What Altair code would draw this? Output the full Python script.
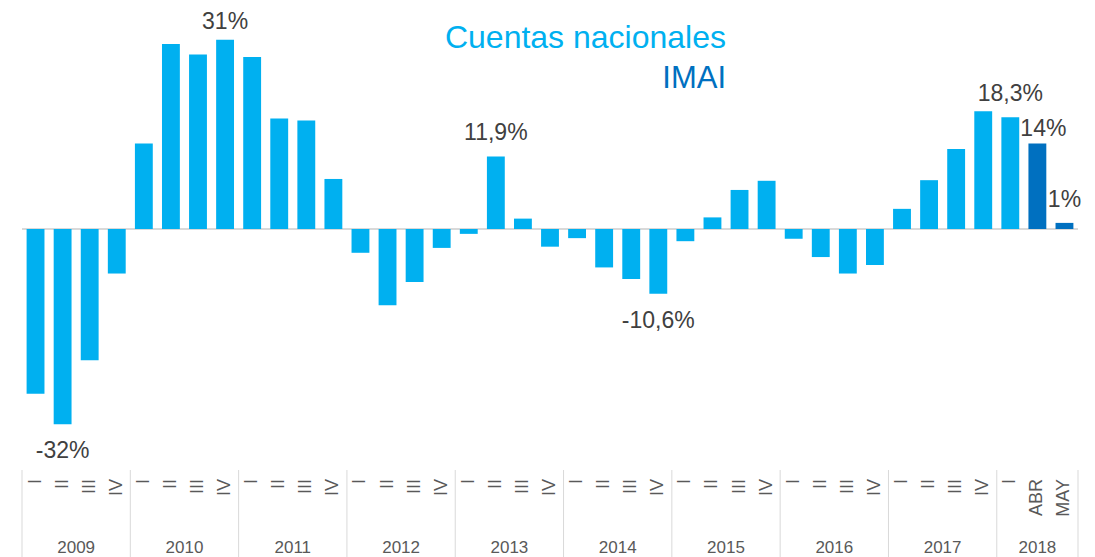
import altair as alt
import pandas as pd

FONT = "Liberation Sans"

year_names = ["2009", "2010", "2011", "2012", "2013", "2014", "2015", "2016", "2017", "2018"]
periods_per_year = [["I", "II", "III", "IV"]] * 9 + [["I", "ABR", "MAY"]]

values = [-27.0, -32.0, -21.5, -7.3,
          14.0, 30.3, 28.6, 31.0,
          28.2, 18.1, 17.8, 8.2,
          -3.9, -12.5, -8.7, -3.1,
          -0.8, 11.9, 1.7, -2.9,
          -1.5, -6.3, -8.2, -10.6,
          -2.0, 1.9, 6.4, 7.9,
          -1.6, -4.6, -7.3, -5.9,
          3.3, 8.0, 13.1, 19.3,
          18.3, 14.0, 1.0]

series_names = ["Cuentas nacionales", "IMAI"]
series_colors = ["#00B0F0", "#0070C0"]
imai_periods = ["ABR", "MAY"]

value_labels = {1: "-32%", 7: "31%", 17: "11,9%", 23: "-10,6%", 36: "18,3%", 37: "14%", 38: "1%"}

periods, years = [], []
for y, ps in zip(year_names, periods_per_year):
    for p in ps:
        periods.append(p)
        years.append(y)

n = len(values)
df = pd.DataFrame({
    "idx": list(range(n)),
    "period": periods,
    "year": years,
    "value": values,
})
df["source"] = [series_names[1] if p in imai_periods else series_names[0] for p in periods]
df["label"] = [value_labels.get(i, "") for i in range(n)]
df["lo"] = df["idx"] - 0.33
df["hi"] = df["idx"] + 0.33

ydf = df.groupby("year", sort=False)["idx"].agg(["min", "max"]).reset_index()
ydf["center"] = (ydf["min"] + ydf["max"]) / 2
sep = pd.DataFrame({"b": list(ydf["min"] - 0.5) + [ydf["max"].iloc[-1] + 0.5]})

W, H = 1056, 457
xs = alt.Scale(domain=[-0.5, n - 0.5], nice=False, zero=False)
ys = alt.Scale(domain=[-39.5, 35.4], nice=False, zero=False)

base = alt.Chart(df)

zero = alt.Chart(pd.DataFrame({"z": [0]})).mark_rule(color="#D9D9D9", strokeWidth=2).encode(
    y=alt.Y("z:Q", scale=ys, axis=None)
)

bars = base.mark_bar().encode(
    x=alt.X("lo:Q", scale=xs, axis=None),
    x2="hi",
    y=alt.Y("value:Q", scale=ys, axis=None),
    y2=alt.datum(0),
    color=alt.Color("source:N", scale=alt.Scale(domain=series_names, range=series_colors), legend=None),
)

def label_layer(flt, dy, dx=0):
    return base.transform_filter(flt).mark_text(
        font=FONT, fontSize=23, color="#404040", baseline="middle", dy=dy, dx=dx
    ).encode(x=alt.X("idx:Q", scale=xs), y=alt.Y("value:Q", scale=ys), text="label:N")

lab_pos = label_layer("datum.label != '' && datum.value > 0 && datum.label != '14%' && datum.label != '31%'", -23)
lab_31 = label_layer("datum.label == '31%'", -18)
lab_14 = label_layer("datum.label == '14%'", -15, 6)
lab_neg = label_layer("datum.label != '' && datum.value < 0", 27)

qlabels = base.mark_text(
    font=FONT, fontSize=18, color="#595959", angle=270, align="right", baseline="middle"
).encode(x=alt.X("idx:Q", scale=xs), y=alt.value(H + 9), text="period:N")

seps = alt.Chart(sep).mark_rule(color="#D9D9D9", strokeWidth=1).encode(
    x=alt.X("b:Q", scale=xs), y=alt.value(H), y2=alt.value(H + 90)
)

ylabels = alt.Chart(ydf).mark_text(
    font=FONT, fontSize=17, color="#595959", baseline="middle"
).encode(x=alt.X("center:Q", scale=xs), y=alt.value(H + 78), text="year:N")

leg_df = pd.DataFrame({"name": series_names, "color": series_colors})
legend1 = alt.Chart(leg_df).transform_filter(f"datum.name == '{series_names[0]}'").mark_text(
    font=FONT, fontSize=32, align="right", baseline="alphabetic", color=series_colors[0]
).encode(x=alt.value(704), y=alt.value(35), text="name:N")
legend2 = alt.Chart(leg_df).transform_filter(f"datum.name == '{series_names[1]}'").mark_text(
    font=FONT, fontSize=31, align="right", baseline="alphabetic", color=series_colors[1]
).encode(x=alt.value(704), y=alt.value(75), text="name:N")

chart = alt.layer(
    zero, bars, lab_pos, lab_31, lab_14, lab_neg, seps, qlabels, ylabels, legend1, legend2
).properties(
    width=W, height=H,
    autosize=alt.AutoSizeParams(type="none"),
    padding={"left": 14, "top": 5, "right": 5, "bottom": 90},
    background="white",
).configure_view(stroke=None)

chart.save("out.html", embed_options={"renderer": "svg", "actions": False})
